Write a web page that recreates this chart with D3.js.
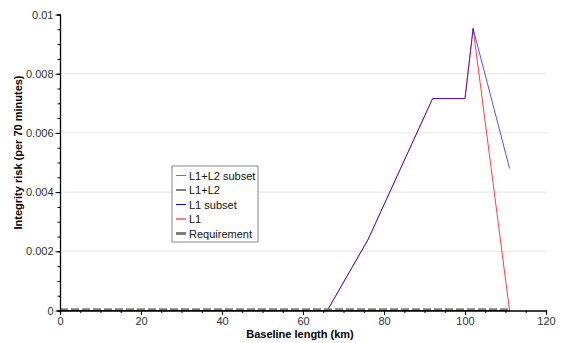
<!DOCTYPE html>
<html>
<head>
<meta charset="utf-8">
<script src="https://cdn.jsdelivr.net/npm/d3@7"></script>
<style>
  body { margin: 0; background: #fff; }
  text { font-family: "Liberation Sans", Arial, sans-serif; }
</style>
</head>
<body>
<div class="chart"></div>
<script>
// baseline lengths (km) and integrity risk values
const l1Km = [66, 76, 92, 100, 102, 111]
const l1Risk = [0, 0.00238, 0.00716, 0.00716, 0.00953, 0]
const l1SubsetKm = [66, 76, 92, 100, 102, 111]
const l1SubsetRisk = [0, 0.00238, 0.00716, 0.00716, 0.00953, 0.0048]
const l1l2Km = [0, 111]
const l1l2Risk = [0, 0]
const l1l2SubsetKm = [0, 111]
const l1l2SubsetRisk = [0, 0]
const reqKm = [0, 111]
const reqRisk = [0.00004, 0.00004]

const xTicks = [0, 20, 40, 60, 80, 100, 120]
const yTicks = [0, 0.002, 0.004, 0.006, 0.008, 0.01]
const yTickLabels = ['0', '0.002', '0.004', '0.006', '0.008', '0.01']

const legendNames = ['L1+L2 subset', 'L1+L2', 'L1 subset', 'L1', 'Requirement']

const fullWidth = 561, fullHeight = 343
const margin = { top: 14.5, right: 15, bottom: 32.5, left: 60 }
const width = fullWidth - margin.left - margin.right
const height = fullHeight - margin.top - margin.bottom

const svg = d3.select('.chart').append('svg')
    .attr('width', fullWidth)
    .attr('height', fullHeight)
const g = svg.append('g')
    .attr('transform', `translate(${margin.left}, ${margin.top})`)

const x = d3.scaleLinear().domain([0, 120]).range([0, width])
const y = d3.scaleLinear().domain([0, 0.01]).range([height, 0])

// grid
g.selectAll('.grid')
    .data(yTicks.filter(t => t > 0 && t < 0.01))
    .enter().append('line')
    .attr('x1', 0).attr('x2', width)
    .attr('y1', d => y(d)).attr('y2', d => y(d))
    .style('stroke', '#e6e6e6')
    .style('stroke-width', 1)

const line = d3.line().x(d => x(d[0])).y(d => y(d[1]))
const zip = (a, b) => a.map((v, i) => [v, b[i]])

const series = [
    { pts: zip(l1l2SubsetKm, l1l2SubsetRisk), color: '#00cc00', op: 1 },
    { pts: zip(l1l2Km, l1l2Risk), color: '#000', op: 1 },
    { pts: zip(l1Km, l1Risk), color: '#ff0000', op: 0.75 },
    { pts: zip(l1SubsetKm, l1SubsetRisk), color: '#0000ff', op: 0.68 },
]
series.forEach(s => {
    g.append('path')
        .attr('d', line(s.pts))
        .style('fill', 'none')
        .style('stroke', s.color)
        .style('stroke-width', 1)
        .style('stroke-opacity', s.op)
})
g.append('path')
    .attr('d', line(zip(reqKm, reqRisk)))
    .style('fill', 'none')
    .style('stroke', '#808080')
    .style('stroke-width', 2)
    .style('stroke-dasharray', '8,3')

// axes
const xMinor = d3.range(0, 121, 5)
const yMinor = d3.range(0, 0.01001, 0.0005)

g.append('g').attr('transform', `translate(0, ${height})`)
    .call(d3.axisBottom(x).tickValues(xMinor).tickSize(2.5).tickFormat(''))
const gx2 = g.append('g').attr('transform', `translate(0, ${height})`)
    .call(d3.axisBottom(x).tickValues(xTicks).tickSize(4.5).tickPadding(2).tickFormat(d3.format('d')))
gx2.select('.domain').remove()

g.append('g')
    .call(d3.axisLeft(y).tickValues(yMinor).tickSize(2.5).tickFormat(''))
const gy2 = g.append('g')
    .call(d3.axisLeft(y).tickValues(yTicks).tickSize(4.5).tickPadding(2).tickFormat((d, i) => yTickLabels[i]))
gy2.select('.domain').remove()

svg.selectAll('.domain').style('stroke', '#000').style('stroke-width', 1.3)
svg.selectAll('.tick line').style('stroke', '#000')
svg.selectAll('.tick text').style('font-size', '11px').style('fill', '#333')
    .style('font-family', '"Liberation Sans", Arial, sans-serif')

// axis titles
g.append('text')
    .attr('x', width / 2 - 3)
    .attr('y', height + 27)
    .attr('text-anchor', 'middle')
    .style('font-size', '11px')
    .style('font-weight', 'bold')
    .text('Baseline length (km)')
g.append('text')
    .attr('transform', `translate(${-38}, ${height / 2 - 10}) rotate(-90)`)
    .attr('text-anchor', 'middle')
    .style('font-size', '11px')
    .style('font-weight', 'bold')
    .text('Integrity risk (per 70 minutes)')

// legend
const legend = svg.append('g').attr('transform', 'translate(172, 166)')
legend.append('rect')
    .attr('width', 86).attr('height', 76)
    .style('fill', '#fff')
    .style('stroke', '#888')
const legendColors = ['#00cc00', '#000', '#0000ff', '#ff0000', '#808080']
const legendWidths = [1, 1, 1, 1, 3]
const item = legend.selectAll('.item')
    .data(legendNames)
    .enter().append('g')
    .attr('transform', (d, i) => `translate(0, ${9.5 + i * 14.5})`)
item.append('line')
    .attr('x1', 4).attr('x2', 14)
    .style('stroke', (d, i) => legendColors[i])
    .style('stroke-width', (d, i) => legendWidths[i])
item.append('text')
    .attr('x', 17).attr('y', 4)
    .style('font-size', '11px')
    .style('fill', '#111')
    .text(d => d)
</script>
</body>
</html>
